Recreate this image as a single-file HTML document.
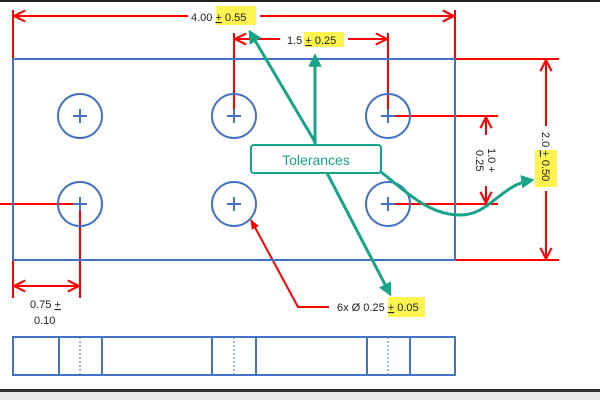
<!DOCTYPE html>
<html><head><style>
html,body{margin:0;padding:0;background:#fff;}
svg{display:block;}
text{font-family:"Liberation Sans",sans-serif;font-size:11px;fill:#222;}
</style></head><body>
<svg width="600" height="400" viewBox="0 0 600 400" xmlns="http://www.w3.org/2000/svg">
<defs>
<marker id="ar" viewBox="0 0 10 10" refX="9" refY="5" markerWidth="7" markerHeight="7" orient="auto-start-reverse"><path d="M1 1 L9 5 L1 9" fill="none" stroke="#f00" stroke-width="1.5"/></marker>
<marker id="at" viewBox="0 0 10 10" refX="8" refY="5" markerWidth="4.5" markerHeight="4.5" orient="auto"><path d="M0 0 L10 5 L0 10 Z" fill="#17a589"/></marker>
<marker id="ars" viewBox="0 0 10 10" refX="9" refY="5" markerWidth="5" markerHeight="5" orient="auto"><path d="M0 1 L10 5 L0 9 Z" fill="#f00"/></marker>
</defs>
<rect x="0" y="0" width="600" height="2" fill="#222"/>
<rect x="0" y="389" width="600" height="3" fill="#333"/>
<rect x="0" y="392" width="600" height="8" fill="#e8e8e8"/>
<rect x="216" y="6" width="40" height="19" fill="#fff44f"/>
<rect x="304" y="32" width="40" height="15" fill="#fff44f"/>
<rect x="535" y="150" width="22" height="37" fill="#fff44f"/>
<rect x="388" y="297" width="37" height="20" fill="#fff44f"/>
<g stroke="#f00" stroke-width="2" fill="none">
<line x1="13" y1="10" x2="13" y2="59"/><line x1="455" y1="10" x2="455" y2="59"/>
<line x1="14" y1="16" x2="188" y2="16" marker-start="url(#ar)"/>
<line x1="260" y1="16" x2="454" y2="16" marker-end="url(#ar)"/>
<line x1="234" y1="33" x2="234" y2="116"/><line x1="388" y1="33" x2="388" y2="116"/>
<line x1="235" y1="39" x2="280" y2="39" marker-start="url(#ar)"/>
<line x1="348" y1="39" x2="387" y2="39" marker-end="url(#ar)"/>
<line x1="455" y1="59" x2="559" y2="59"/><line x1="455" y1="260" x2="559" y2="260"/>
<line x1="546" y1="60" x2="546" y2="126" marker-start="url(#ar)"/>
<line x1="546" y1="191" x2="546" y2="259" marker-end="url(#ar)"/>
<line x1="394" y1="116" x2="498" y2="116"/><line x1="394" y1="204" x2="498" y2="204"/>
<line x1="486" y1="117" x2="486" y2="135" marker-start="url(#ar)"/>
<line x1="486" y1="186" x2="486" y2="203" marker-end="url(#ar)"/>
<line x1="0" y1="204" x2="74" y2="204"/>
<line x1="80" y1="211" x2="80" y2="298"/><line x1="13" y1="260" x2="13" y2="298"/>
<line x1="14" y1="286" x2="79" y2="286" marker-start="url(#ar)" marker-end="url(#ar)"/>
<polyline points="329,307 298,307 251,220" marker-end="url(#ars)"/>
</g>
<g stroke="#4472c4" stroke-width="2" fill="none">
<rect x="13" y="59" width="442" height="201"/>
<circle cx="80" cy="116" r="22"/><circle cx="234" cy="116" r="22"/><circle cx="388" cy="116" r="22"/>
<circle cx="80" cy="204" r="22"/><circle cx="234" cy="204" r="22"/><circle cx="388" cy="204" r="22"/>
<path d="M73 116h14M80 109v14M227 116h14M234 109v14M381 116h14M388 109v14M73 204h14M80 197v14M227 204h14M234 197v14M381 204h14M388 197v14"/>
<rect x="13" y="337" width="442" height="38"/>
<path d="M59 337v38M102 337v38M212 337v38M256 337v38M367 337v38M410 337v38"/>
<path d="M80 337v38M234 337v38M388 337v38" stroke-width="1" stroke-dasharray="2,2"/>
</g>
<text x="191" y="21">4.00 <tspan text-decoration="underline">+</tspan> 0.55</text>
<text x="287" y="44">1.5 <tspan text-decoration="underline">+</tspan> 0.25</text>
<text transform="translate(542,132) rotate(90)">2.0 <tspan text-decoration="underline">+</tspan> 0.50</text>
<text transform="translate(488,148) rotate(90)">1.0 +</text>
<text transform="translate(476,150) rotate(90)">0.25</text>
<text x="30" y="308">0.75 <tspan text-decoration="underline">+</tspan></text>
<text x="34" y="324">0.10</text>
<text x="337" y="311">6x Ø 0.25 <tspan text-decoration="underline">+</tspan> 0.05</text>
<g stroke="#17a589" stroke-width="3" fill="none">
<line x1="315" y1="145" x2="315" y2="56" marker-end="url(#at)"/>
<line x1="315" y1="142" x2="250" y2="32" marker-end="url(#at)"/>
<line x1="327" y1="173" x2="390" y2="294" marker-end="url(#at)"/>
<path d="M381 172 C410 195 430 215 460 215 C490 215 500 185 532 180" marker-end="url(#at)"/>
</g>
<rect x="251" y="145" width="130" height="28" rx="3" fill="#fff" stroke="#17a589" stroke-width="2"/>
<text x="316" y="165" text-anchor="middle" style="font-size:14px;fill:#17a589">Tolerances</text>
</svg>
</body></html>
